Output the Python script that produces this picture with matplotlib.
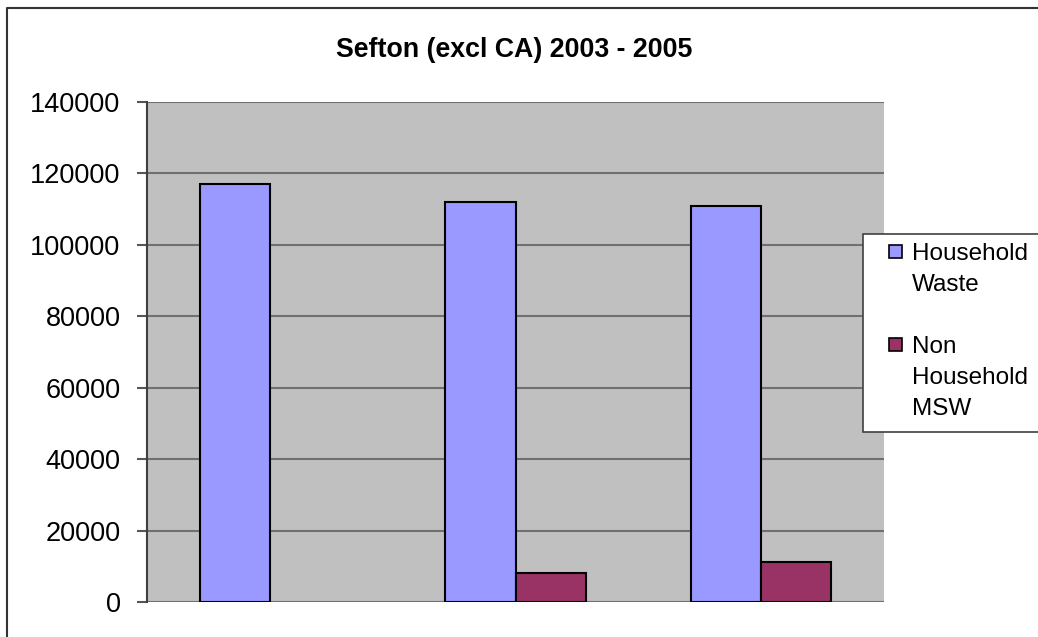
import numpy as np
import matplotlib.pyplot as plt
from matplotlib.patches import Rectangle
from matplotlib.lines import Line2D

plt.rcParams['font.family'] = ['Liberation Sans', 'DejaVu Sans']

years = ['2003', '2004', '2005']
household = [117000, 112000, 110900]
non_household = [0, 8100, 11200]
series_names = ['Household\nWaste', 'Non\nHousehold\nMSW']
colors = ['#9999FF', '#993366']

W, H = 1038, 637
fig = plt.figure(figsize=(W / 100, H / 100), dpi=100)
ax = fig.add_axes([147 / W, 1 - 602 / H, 737 / W, 500 / H])

x = np.arange(len(years))
w = 0.285
ax.bar(x - w / 2, household, w, color=colors[0], edgecolor='black', linewidth=1.5, zorder=3)
nh_lw = [1.5 if v > 0 else 0 for v in non_household]
ax.bar(x + w / 2, non_household, w, color=colors[1], edgecolor='black', linewidth=nh_lw, zorder=3)

ax.set_facecolor('#C0C0C0')
ax.set_xlim(-0.5, 2.5)
ax.set_ylim(0, 140000)
ax.set_yticks(range(0, 140001, 20000))
ax.tick_params(axis='y', labelsize=19.5, length=7, width=1.5, color='#555555', pad=12)
ax.set_xticks([])
ax.yaxis.grid(True, color='#707070', linewidth=1.5, zorder=1)
for side in ['top', 'right', 'bottom']:
    ax.spines[side].set_visible(False)
ax.spines['left'].set_color('#404040')
ax.spines['left'].set_linewidth(1.5)

fig.text(514 / W, 1 - 50 / H, 'Sefton (excl CA) 2003 - 2005', ha='center', va='center',
         fontsize=19.3, fontweight='bold')

# legend (hand placed, clipped by the right edge like the original)
fig.patches.append(Rectangle((863 / W, 1 - 432 / H), 200 / W, 198 / H, transform=fig.transFigure,
                             facecolor='white', edgecolor='#404040', linewidth=1.2, zorder=5))
first_baselines = [260, 353]
line_step = 31
for name, c, base in zip(series_names, colors, first_baselines):
    fig.patches.append(Rectangle((889 / W, 1 - (base - 2) / H), 13 / W, 13 / H,
                                 transform=fig.transFigure, facecolor=c, edgecolor='black',
                                 linewidth=1.2, zorder=6))
    for i, line in enumerate(name.split('\n')):
        fig.text(912 / W, 1 - (base + i * line_step) / H, line, ha='left', va='baseline',
                 fontsize=17.5, zorder=7)

# chart border (left and top visible)
fig.lines.append(Line2D([7 / W, 7 / W, 1], [0, 1 - 8 / H, 1 - 8 / H], transform=fig.transFigure,
                        color='#333333', linewidth=1.5))

fig.savefig('out.png', dpi=100)
